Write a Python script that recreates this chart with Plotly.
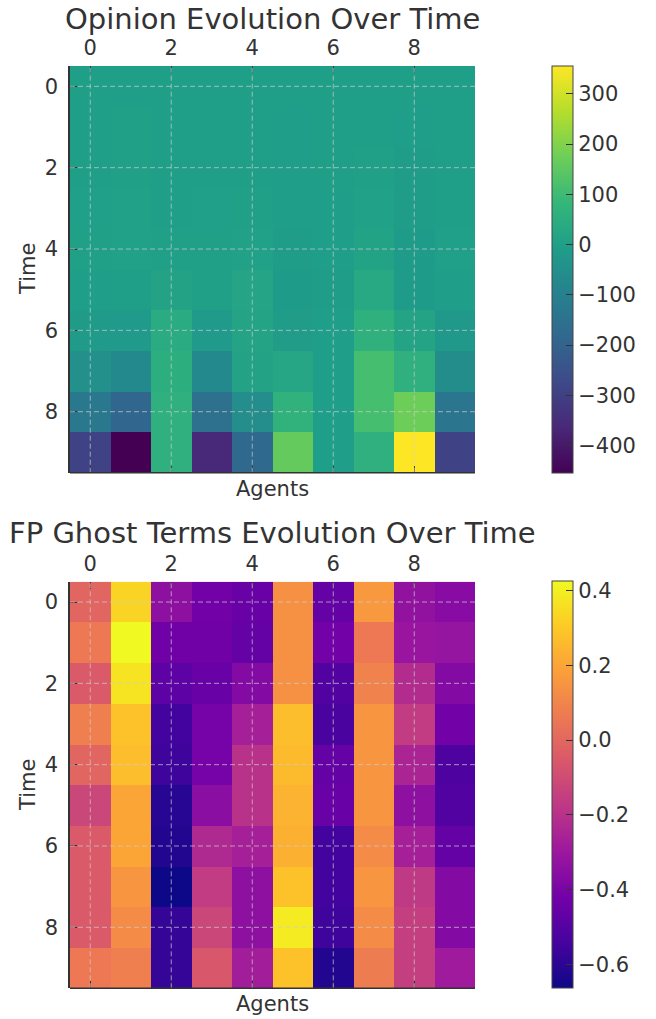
import plotly.graph_objects as go

agents = list(range(10))
times = list(range(10))

opinions = [
    [0, 0, 0, 0, 0, 0, 0, 0, 0, 0],
    [0, 4, 0, 0, 0, -2, 0, 1, -2, 0],
    [1, 4, -1, 0, 1, -3, -1, 3, -6, 0],
    [2, 6, 1, 2, 4, -4, -3, 6, -8, 1],
    [3, 5, 4, 4, 6, -6, -4, 14, -10, 2],
    [-2, 1, 12, 3, 20, -10, -6, 32, -10, -2],
    [-14, -18, 42, -16, 18, -12, -5, 62, 18, -22],
    [-50, -70, 52, -72, 12, 24, -4, 112, 60, -58],
    [-130, -187, 60, -154, -57, 68, -2, 113, 174, -140],
    [-292, -454, 60, -365, -179, 162, -2, 60, 356, -292],
]

ghost = [
    [-0.01, 0.33, -0.34, -0.42, -0.45, 0.14, -0.46, 0.16, -0.33, -0.36],
    [0.06, 0.425, -0.43, -0.43, -0.46, 0.14, -0.42, 0.06, -0.31, -0.32],
    [-0.05, 0.37, -0.48, -0.45, -0.37, 0.14, -0.51, 0.09, -0.22, -0.37],
    [0.08, 0.28, -0.55, -0.41, -0.27, 0.27, -0.53, 0.15, -0.16, -0.42],
    [-0.01, 0.27, -0.56, -0.41, -0.20, 0.26, -0.46, 0.15, -0.25, -0.52],
    [-0.12, 0.20, -0.61, -0.35, -0.20, 0.24, -0.45, 0.15, -0.34, -0.51],
    [-0.05, 0.20, -0.62, -0.23, -0.27, 0.23, -0.55, 0.12, -0.27, -0.46],
    [-0.05, 0.15, -0.664, -0.16, -0.34, 0.28, -0.55, 0.15, -0.17, -0.37],
    [-0.05, 0.12, -0.58, -0.12, -0.34, 0.39, -0.56, 0.12, -0.15, -0.37],
    [0.06, 0.08, -0.58, -0.06, -0.28, 0.28, -0.62, 0.07, -0.15, -0.29],
]

tick_vals = [0, 2, 4, 6, 8]
cb1_ticks = [-400, -300, -200, -100, 0, 100, 200, 300]
cb2_ticks = [-0.6, -0.4, -0.2, 0.0, 0.2, 0.4]

W, H = 656, 1019
TXT = "#333333"
FONT = "DejaVu Sans"

def px(x):
    return x / W

def py(y):
    return 1 - y / H

# plot boxes in window pixels: (left, top, right, bottom)
box1 = (70, 66, 475, 472.7)
box2 = (70, 581.7, 475, 988.3)

fig = go.Figure()

for i, (z, cs, box, ticks, fmt) in enumerate([
    (opinions, "Viridis", box1, cb1_ticks, None),
    (ghost, "Plasma", box2, cb2_ticks, ".1f"),
]):
    sfx = "" if i == 0 else str(i + 1)
    cb = dict(
        x=px(552), xanchor="left", xref="paper",
        y=py(box[3]), yanchor="bottom", yref="paper",
        len=(box[3] - box[1]) / H, lenmode="fraction",
        thickness=21, thicknessmode="pixels",
        outlinewidth=1, outlinecolor="#444444",
        tickvals=ticks, ticks="inside", ticklen=7, tickcolor="#333333",
        tickfont=dict(family=FONT, size=21, color=TXT),
        xpad=0, ypad=0,
    )
    if fmt:
        cb["tickformat"] = fmt
    fig.add_trace(go.Heatmap(
        z=z, x=agents, y=times, colorscale=cs,
        xaxis="x" + sfx, yaxis="y" + sfx, colorbar=cb,
    ))

axis_common_x = dict(
    range=[-0.5, 9.5], side="top", tickvals=tick_vals, showgrid=False,
    zeroline=False, showline=False, ticks="inside", ticklen=7,
    tickcolor="#333333", tickwidth=1.2, mirror="ticks",
    tickfont=dict(family=FONT, size=21, color=TXT), ticklabelstandoff=6,
)
axis_common_y = dict(
    range=[9.5, -0.5], tickvals=tick_vals, showgrid=False, zeroline=False,
    showline=True, linecolor="#333333", linewidth=1.5, ticks="inside",
    ticklen=7, tickcolor="#333333", tickwidth=1.2,
    tickfont=dict(family=FONT, size=21, color=TXT), ticklabelstandoff=6,
)

fig.update_layout(
    width=W, height=H, margin=dict(l=0, r=0, t=0, b=0),
    paper_bgcolor="white", plot_bgcolor="white",
    font=dict(family=FONT, color=TXT),
    xaxis=dict(axis_common_x, domain=[px(box1[0]), px(box1[2])], anchor="y"),
    yaxis=dict(axis_common_y, domain=[py(box1[3]), py(box1[1])], anchor="x"),
    xaxis2=dict(axis_common_x, domain=[px(box2[0]), px(box2[2])], anchor="y2"),
    yaxis2=dict(axis_common_y, domain=[py(box2[3]), py(box2[1])], anchor="x2"),
)

shapes = []
grid_line = dict(color="rgba(205,205,205,0.7)", width=1, dash="5px,3px")
for sfx in ["", "2"]:
    for v in tick_vals:
        shapes.append(dict(type="line", xref="x" + sfx, yref="y" + sfx + " domain",
                           x0=v, x1=v, y0=0, y1=1, line=grid_line, layer="above"))
        shapes.append(dict(type="line", xref="x" + sfx + " domain", yref="y" + sfx,
                           x0=0, x1=1, y0=v, y1=v, line=grid_line, layer="above"))
    shapes.append(dict(type="line", xref="x" + sfx + " domain", yref="y" + sfx + " domain",
                       x0=0, x1=1, y0=0, y1=0,
                       line=dict(color="#333333", width=1.5), layer="above"))
fig.update_layout(shapes=shapes)

annotations = [
    dict(text="Opinion Evolution Over Time", x=px(272.5), y=py(19), size=29),
    dict(text="FP Ghost Terms Evolution Over Time", x=px(272.5), y=py(533), size=29),
    dict(text="Agents", x=px(272.5), y=py(489), size=21),
    dict(text="Agents", x=px(272.5), y=py(1004), size=21),
    dict(text="Time", x=px(28), y=py(269), size=21, angle=-90),
    dict(text="Time", x=px(28), y=py(785), size=21, angle=-90),
]
for a in annotations:
    fig.add_annotation(
        text=a["text"], x=a["x"], y=a["y"], xref="paper", yref="paper",
        xanchor="center", yanchor="middle", showarrow=False,
        textangle=a.get("angle", 0),
        font=dict(family=FONT, size=a["size"], color=TXT),
    )

# remove the browser's default 8px body margin so the figure fills the window
fig.write_html(
    "out.html",
    config={"displayModeBar": False},
    post_script="document.body.style.margin='0';document.body.style.overflow='hidden';",
)
